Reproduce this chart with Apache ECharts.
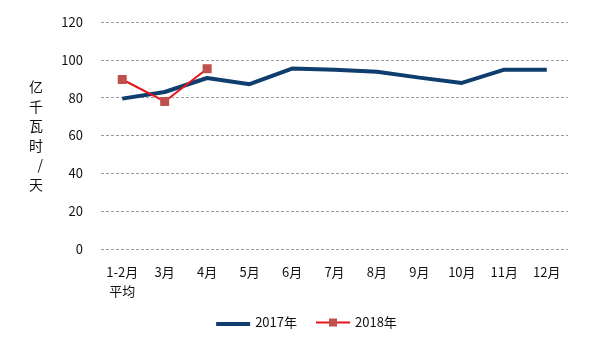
<!DOCTYPE html>
<html>
<head>
<meta charset="utf-8">
<script src="https://cdn.jsdelivr.net/npm/echarts@6/dist/echarts.min.js"></script>
<style>
html,body{margin:0;padding:0;background:#fff;}
#c{width:613px;height:338px;}
</style>
</head>
<body>
<div id="c"></div>
<script>
// Daily electricity generation, 100 million kWh per day
var categories = ['1-2月\n平均', '3月', '4月', '5月', '6月', '7月', '8月', '9月', '10月', '11月', '12月'];
var values2017 = [79.5, 83, 90.4, 87.1, 95.4, 94.8, 93.7, 90.6, 87.8, 94.8, 94.8];
var values2018 = [89.6, 78, 95.3];
var yTicks = [0, 20, 40, 60, 80, 100, 120];

var FONT = '"Noto Sans CJK SC", "Noto Sans", sans-serif';
var chart = echarts.init(document.getElementById('c'), null, {renderer: 'canvas'});
chart.setOption({
  animation: false,
  backgroundColor: '#ffffff',
  grid: {left: 101, right: 45, top: 22, bottom: 89, containLabel: false},
  legend: {
    bottom: 4,
    left: 'center',
    itemWidth: 34,
    itemHeight: 10,
    itemGap: 18,
    textStyle: {fontFamily: FONT, fontSize: 13, color: '#111'},
    data: [
      // thick bar icon for the plain line series
      {name: '2017年', icon: 'path://M0,0L0.01,0M0,3H34V7H0Z', itemStyle: {color: '#0f3d6e'}},
      '2018年'
    ]
  },
  xAxis: {
    type: 'category',
    data: categories,
    boundaryGap: true,
    axisLine: {show: false},
    axisTick: {show: false},
    axisLabel: {
      fontFamily: FONT, fontSize: 13, color: '#111', margin: 14,
      lineHeight: 19, interval: 0, verticalAlign: 'top'
    }
  },
  yAxis: {
    type: 'value',
    min: yTicks[0],
    max: yTicks[yTicks.length - 1],
    interval: 20,
    name: '亿\n千\n瓦\n时\n/\n天',
    nameLocation: 'middle',
    nameGap: 58,
    nameRotate: 0,
    nameTextStyle: {fontFamily: FONT, fontSize: 14, color: '#111', lineHeight: 19.5},
    axisLine: {show: false},
    axisTick: {show: false},
    axisLabel: {fontFamily: FONT, fontSize: 13, color: '#111', margin: 18},
    splitLine: {lineStyle: {color: '#9a9a9a', type: [3, 2], width: 1}}
  },
  series: [
    {
      name: '2017年',
      type: 'line',
      data: values2017,
      symbol: 'none',
      lineStyle: {color: '#0f3d6e', width: 4},
      itemStyle: {color: '#0f3d6e'},
      z: 2
    },
    {
      name: '2018年',
      type: 'line',
      data: values2018,
      symbol: 'rect',
      symbolSize: 9,
      lineStyle: {color: '#e8131b', width: 2},
      itemStyle: {color: '#c0504d'},
      z: 3
    }
  ]
});
</script>
</body>
</html>
